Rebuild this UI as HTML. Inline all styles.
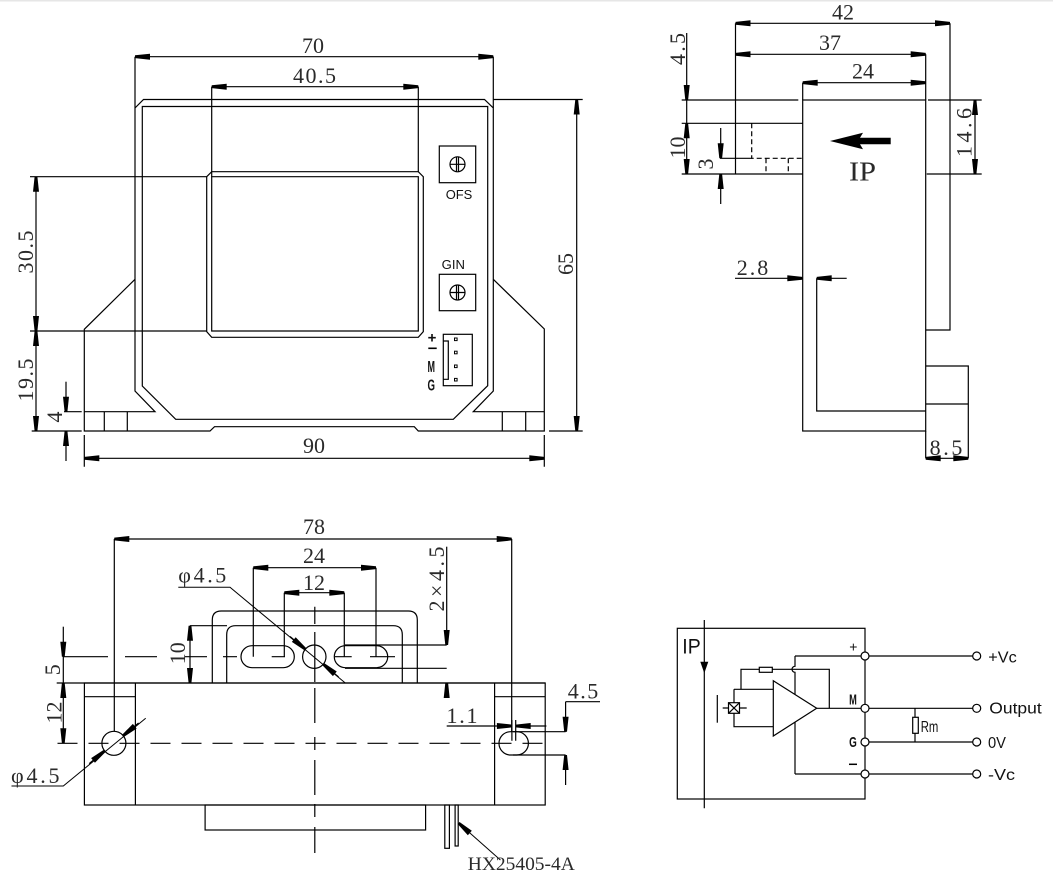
<!DOCTYPE html>
<html><head><meta charset="utf-8"><style>
html,body{margin:0;padding:0;background:#fff}
svg{display:block}
.l{fill:none;stroke:#000;stroke-width:1.2}
.m{marker-start:url(#a);marker-end:url(#a)}
.e{marker-end:url(#a)}
.d{font-family:"Liberation Serif",serif;font-size:22px;fill:#2a2a2a}
.s{font-family:"Liberation Sans",sans-serif;fill:#111}
.dash{stroke-dasharray:5 3}
</style></head><body>
<svg width="1053" height="880" viewBox="0 0 1053 880" xmlns="http://www.w3.org/2000/svg">
<defs>
<marker id="a" markerUnits="userSpaceOnUse" markerWidth="17" markerHeight="8" refX="15" refY="4" orient="auto-start-reverse" viewBox="0 0 17 8" overflow="visible">
<path d="M0,1 L15,2.6 L15,5.4 L0,7Z" fill="#000"/>
</marker>
</defs>
<rect x="0" y="0" width="1053" height="1.5" fill="#e6e6e6"/>

<!-- ================= FRONT VIEW ================= -->
<g class="l">
<path d="M135,108 L143.5,99.5 H484.5 L493.3,108 V391 L473.3,411.7 H544.3"/>
<path d="M135,108 V391 L155,411.7 H84.3"/>
<path d="M135,56.7 V108 M493.3,56.7 V108"/>
<path d="M135,279.3 L84.3,329.3 V431 H210 L214.5,426.7 H414.3 L418.3,431 H544.3 V329 L493.3,279.3"/>
<path d="M142.3,106.5 H487.7 V385.7 L453.3,419.3 H175.7 L142.3,386 Z"/>
<path d="M206.7,176.7 L211.7,171.7 H418.3 L423.3,176.7 V331.7 L418.3,337.3 H211.7 L206.7,331.7 Z"/>
<path d="M211.7,176.7 H418.3 V331 H211.7 Z"/>
<path d="M211.7,86.7 V176.7 M418.3,86.7 V171.7"/>
<path d="M104.3,411.7 V431 M127.3,411.7 V431 M502.3,411.7 V431 M525.7,411.7 V431"/>
<path d="M30,176.7 H206.7 M30,331 H206.7 M31.7,431 H81.7 M64,411.7 H81.7"/>
<path d="M84.3,435 V466.7 M544.3,435 V466.7"/>
<path d="M493.3,99.5 H582.7 M549,431 H582.7"/>
<path class="m" d="M135,56.7 H493.3"/>
<path class="m" d="M211.7,86.7 H418.3"/>
<path class="m" d="M36,176.7 V331"/>
<path class="m" d="M36,331 V431"/>
<path class="e" d="M66,381.7 V411.7"/>
<path class="e" d="M66,461 V431"/>
<path class="m" d="M84.3,458.3 H544.3"/>
<path class="m" d="M576.7,99.5 V431"/>
<rect x="439.3" y="146" width="36.4" height="36.7"/>
<circle cx="457.5" cy="164.3" r="7.5"/>
<path d="M450,164.3 H465 M456.5,156.8 V171.8 M458.5,156.8 V171.8"/>
<rect x="439.3" y="274.3" width="36.4" height="36.4"/>
<circle cx="457.5" cy="292.5" r="7.5"/>
<path d="M450,292.5 H465 M456.5,285 V300 M458.5,285 V300"/>
<rect x="443.3" y="334.3" width="29" height="51.4"/>
<path d="M443.3,341 H448.3 V379.3 H443.3"/>
<path d="M428.3,348.3 H436.7" stroke-width="1.6"/>
</g>
<g fill="none" stroke="#000" stroke-width="1">
<rect x="454.5" y="338" width="2.6" height="2.6"/>
<rect x="454.5" y="351.2" width="2.6" height="2.6"/>
<rect x="454.5" y="365" width="2.6" height="2.6"/>
<rect x="454.5" y="378.4" width="2.6" height="2.6"/>
</g>
<text class="d" x="313" y="53" text-anchor="middle">70</text>
<text class="d" x="314.5" y="83" text-anchor="middle" textLength="43" lengthAdjust="spacing">40.5</text>
<text class="d" x="33" y="252" text-anchor="middle" transform="rotate(-90 33 252)" textLength="43" lengthAdjust="spacing">30.5</text>
<text class="d" x="33" y="380" text-anchor="middle" transform="rotate(-90 33 380)" textLength="43" lengthAdjust="spacing">19.5</text>
<text class="d" x="62" y="417" text-anchor="middle" transform="rotate(-90 62 417)">4</text>
<text class="d" x="573" y="264" text-anchor="middle" transform="rotate(-90 573 264)">65</text>
<text class="d" x="314" y="453" text-anchor="middle">90</text>
<text class="s" x="459" y="199" style="font-size:13px" text-anchor="middle" textLength="26.6" lengthAdjust="spacingAndGlyphs">OFS</text>
<text class="s" x="453.3" y="269" style="font-size:13px" text-anchor="middle" textLength="23.3" lengthAdjust="spacingAndGlyphs">GIN</text>
<text class="s" x="432" y="342.5" style="font-size:15px;font-weight:bold" text-anchor="middle">+</text>
<text class="s" x="431.3" y="372" style="font-size:16px;font-weight:bold" text-anchor="middle" textLength="7.5" lengthAdjust="spacingAndGlyphs">M</text>
<text class="s" x="431.3" y="390.5" style="font-size:16px;font-weight:bold" text-anchor="middle" textLength="7.5" lengthAdjust="spacingAndGlyphs">G</text>

<!-- ================= SIDE VIEW ================= -->
<g class="l">
<path d="M681.7,100 H798.3 M928,100 H981.7"/>
<rect x="802.7" y="100" width="123" height="331"/>
<path d="M950,23.3 V330 H925.7"/>
<path d="M925.7,54.3 V100 M802.7,82.7 V100 M735.5,23.3 V174"/>
<path class="m" d="M735.5,23.3 H950"/>
<path class="m" d="M735.5,54.3 H925.7"/>
<path class="m" d="M802.7,82.7 H925.7"/>
<path d="M681.7,123.3 H802.7 M681.7,174 H802.7 M926.7,174 H981.7"/>
<path class="dash" d="M751.7,123.3 V158.3 H802.7 M766,158.3 V174 M788.3,158.3 V174"/>
<path d="M720,158.3 H751.7"/>
<path class="e" d="M686.7,33 V100"/>
<path d="M686.7,100 V123.3"/>
<path class="m" d="M686.7,123.3 V174"/>
<path class="e" d="M720.7,128 V158.3"/>
<path class="e" d="M720.7,204 V174"/>
<path class="m" d="M975,100 V174"/>
<path d="M816.7,278.3 V411 H925.7"/>
<path class="e" d="M735,278.3 H802.3"/>
<path class="e" d="M846.7,278.3 H816.7"/>
<path d="M925.7,366 H968.3 V458.3 M925.7,404 H968.3 M925.7,431 V458.3"/>
<path class="m" d="M925.7,458.3 H968.3"/>
</g>
<polygon points="830,141 863,132.7 860,137.8 890.7,137.8 890.7,144.3 860,144.3 863,149.3" fill="#000"/>
<text class="d" x="843" y="19.5" text-anchor="middle">42</text>
<text class="d" x="830" y="50" text-anchor="middle">37</text>
<text class="d" x="863" y="78.5" text-anchor="middle">24</text>
<text class="d" x="685" y="49" text-anchor="middle" transform="rotate(-90 685 49)" textLength="32" lengthAdjust="spacing">4.5</text>
<text class="d" x="685" y="147.5" text-anchor="middle" transform="rotate(-90 685 147.5)">10</text>
<text class="d" x="713" y="164" text-anchor="middle" transform="rotate(-90 713 164)">3</text>
<text class="d" x="971.5" y="132.5" text-anchor="middle" transform="rotate(-90 971.5 132.5)" textLength="49" lengthAdjust="spacing">14.6</text>
<text class="d" x="862.5" y="180.5" style="font-size:27px" text-anchor="middle" textLength="27" lengthAdjust="spacingAndGlyphs">IP</text>
<text class="d" x="752.5" y="275" text-anchor="middle" textLength="31.6" lengthAdjust="spacing">2.8</text>
<text class="d" x="946" y="455" text-anchor="middle" textLength="32.7" lengthAdjust="spacing">8.5</text>

<!-- ================= BOTTOM VIEW ================= -->
<g class="l">
<path class="m" d="M114.3,539 H511.7"/>
<path d="M114.3,539 V731.5 M511.7,539 V731.7"/>
<path class="m" d="M253.3,567.7 H376"/>
<path d="M253.3,567.7 V656.7 M376,567.7 V656.7"/>
<path class="m" d="M284.3,592.7 H344.3"/>
<path d="M284.3,592.7 V656.7 M344.3,592.7 V656.7"/>
<path d="M178.3,587.3 H230 L345,682.7" stroke-width="1"/>
<path class="e" d="M290,636.5 L305.3,649.2"/>
<path class="e" d="M338.6,676.9 L323.3,664.2"/>
<circle cx="314.3" cy="656.7" r="11.7"/>
<rect x="241" y="645.7" width="53.3" height="22" rx="11"/>
<rect x="334.3" y="645.7" width="53.4" height="22" rx="11"/>
<path d="M63,656.7 H108 M125,656.7 H157 M185,656.7 H207 M223,656.7 H237 M271.7,656.7 H285 M335,656.7 H351.7 M370,656.7 H395"/>
<path d="M345,645 H446.7 M345,668.3 H446.7"/>
<path class="e" d="M446.7,546.7 V645"/>
<path class="e" d="M446.7,696.7 V683"/>
<path d="M212.3,683 V620 Q212.3,611 221.3,611 H408.3 Q417.3,611 417.3,620 V683"/>
<path d="M226.7,683 V634.7 Q226.7,625.7 235.7,625.7 H393.3 Q402.3,625.7 402.3,634.7 V683"/>
<path d="M190,625.7 H227"/>
<path class="m" d="M190,625.7 V683"/>
<path class="e" d="M63.3,626.7 V656.7"/>
<path d="M63.3,656.7 V683"/>
<path class="m" d="M63.3,683 V743.3"/>
<path d="M56.7,683 H545.2"/>
<rect x="84.4" y="683" width="460.8" height="122"/>
<path d="M135.4,683 V805 M494.6,683 V805 M84.4,696.7 H135.4 M494.6,696.7 H545.2"/>
<path d="M57.5,743.3 H545" stroke-dasharray="20 11"/>
<circle cx="113.9" cy="743.3" r="12"/>
<path d="M145.7,718.3 L63.3,786 H11.5" stroke-width="1"/>
<path class="e" d="M138.6,723 L123.2,735.7"/>
<path class="e" d="M89.2,763.6 L104.6,750.9"/>
<rect x="499" y="731.7" width="29.4" height="23.3" rx="11.6"/>
<path d="M513,731.7 H565.6 M513,755 H565.6"/>
<path d="M511.9,720 V740.7 M515.7,720 V740.7"/>
<path class="e" d="M446.7,726 H511.9"/>
<path class="e" d="M546.4,726 H515.7"/>
<path class="e" d="M565.6,701.7 V731.7"/>
<path class="e" d="M565.6,785 V755"/>
<path d="M565.6,701.7 H600"/>
<path d="M314.8,606.7 V624 M314.8,632 V682 M314.8,688 V723 M314.8,737 V750 M314.8,760 V795 M314.8,804 V817 M314.8,827 V853"/>
<rect x="205.1" y="805" width="220.5" height="25"/>
<rect x="444.8" y="805" width="4.6" height="43.3"/>
<rect x="455.1" y="805" width="3.1" height="41"/>
<path class="e" d="M500.4,860 L458.6,823" stroke-width="1"/>
</g>
<text class="d" x="314" y="534" text-anchor="middle">78</text>
<text class="d" x="314" y="563" text-anchor="middle">24</text>
<text class="d" x="314" y="590" text-anchor="middle">12</text>
<text class="d" x="178.3" y="582.5" textLength="48" lengthAdjust="spacing">φ4.5</text>
<text class="d" x="444" y="579" text-anchor="middle" transform="rotate(-90 444 579)" textLength="65" lengthAdjust="spacing">2×4.5</text>
<text class="d" x="185" y="653.3" text-anchor="middle" transform="rotate(-90 185 653.3)">10</text>
<text class="d" x="60" y="669.7" text-anchor="middle" transform="rotate(-90 60 669.7)">5</text>
<text class="d" x="61.3" y="712.5" text-anchor="middle" transform="rotate(-90 61.3 712.5)">12</text>
<text class="d" x="462" y="723" text-anchor="middle" textLength="31" lengthAdjust="spacing">1.1</text>
<text class="d" x="583" y="698.5" text-anchor="middle" textLength="30.5" lengthAdjust="spacing">4.5</text>
<text class="d" x="11" y="783" textLength="48.5" lengthAdjust="spacing">φ4.5</text>
<text class="d" x="467.8" y="870" style="font-size:19px" textLength="107" lengthAdjust="spacingAndGlyphs">HX25405-4A</text>

<!-- ================= SCHEMATIC ================= -->
<g class="l">
<rect x="677.3" y="628.3" width="187.7" height="170.7"/>
<path d="M704.3,620 V808.3"/>
<path d="M865,656 H972.7 M816.7,708.3 H972.7 M865,742 H972.7 M795,774 H972.7"/>
<path d="M795,656 H865 M795,656 V666.3 A3,3 0 0 0 795,672.3 V774"/>
<path d="M829.3,708.3 V669.3 H741 V689.3"/>
<rect x="759.3" y="667.3" width="13" height="5" fill="#fff"/>
<path d="M734,689.3 H773.3 M734,689.3 V702.7 M734,713.3 V726.7 H773.3"/>
<path d="M722.7,708 H746.7"/>
<rect x="728.5" y="702.7" width="11" height="10.6" fill="#fff"/>
<path d="M728.5,702.7 L739.5,713.3 M739.5,702.7 L728.5,713.3"/>
<path d="M717.3,695 V722.7"/>
<path d="M773.3,680.7 L816.7,708.3 L773.3,736 Z" fill="#fff"/>
<path d="M915,708.3 V742"/>
<rect x="912.7" y="717.3" width="5.6" height="16" fill="#fff"/>
<g fill="#fff">
<circle cx="865" cy="656" r="4"/>
<circle cx="865" cy="708.3" r="4"/>
<circle cx="865" cy="742" r="4"/>
<circle cx="865" cy="774" r="4"/>
<circle cx="976.7" cy="656" r="4"/>
<circle cx="976.7" cy="708.3" r="4"/>
<circle cx="976.7" cy="742" r="4"/>
<circle cx="976.7" cy="774" r="4"/>
</g>
<path d="M849,764.3 H857" stroke-width="1.5"/>
</g>
<polygon points="700.3,661.7 708.3,661.7 704.3,673.3" fill="#000"/>
<text class="s" x="682.3" y="653.5" style="font-size:21px" textLength="18.4" lengthAdjust="spacingAndGlyphs">IP</text>
<text class="s" x="853.3" y="651.5" style="font-size:14px" text-anchor="middle">+</text>
<text class="s" x="853" y="704.5" style="font-size:15px;font-weight:bold" text-anchor="middle" textLength="7.7" lengthAdjust="spacingAndGlyphs">M</text>
<text class="s" x="853" y="747" style="font-size:15px;font-weight:bold" text-anchor="middle" textLength="7.7" lengthAdjust="spacingAndGlyphs">G</text>
<text class="s" x="988.3" y="662.5" style="font-size:15.5px" textLength="28.4" lengthAdjust="spacingAndGlyphs">+Vc</text>
<text class="s" x="989.3" y="713.5" style="font-size:15.5px" textLength="52.4" lengthAdjust="spacingAndGlyphs">Output</text>
<text class="s" x="988" y="748" style="font-size:15.5px" textLength="18" lengthAdjust="spacingAndGlyphs">0V</text>
<text class="s" x="988" y="780" style="font-size:15.5px" textLength="27" lengthAdjust="spacingAndGlyphs">-Vc</text>
<text class="s" x="920.7" y="732" style="font-size:15.5px" textLength="17.6" lengthAdjust="spacingAndGlyphs">Rm</text>
</svg>
</body></html>
